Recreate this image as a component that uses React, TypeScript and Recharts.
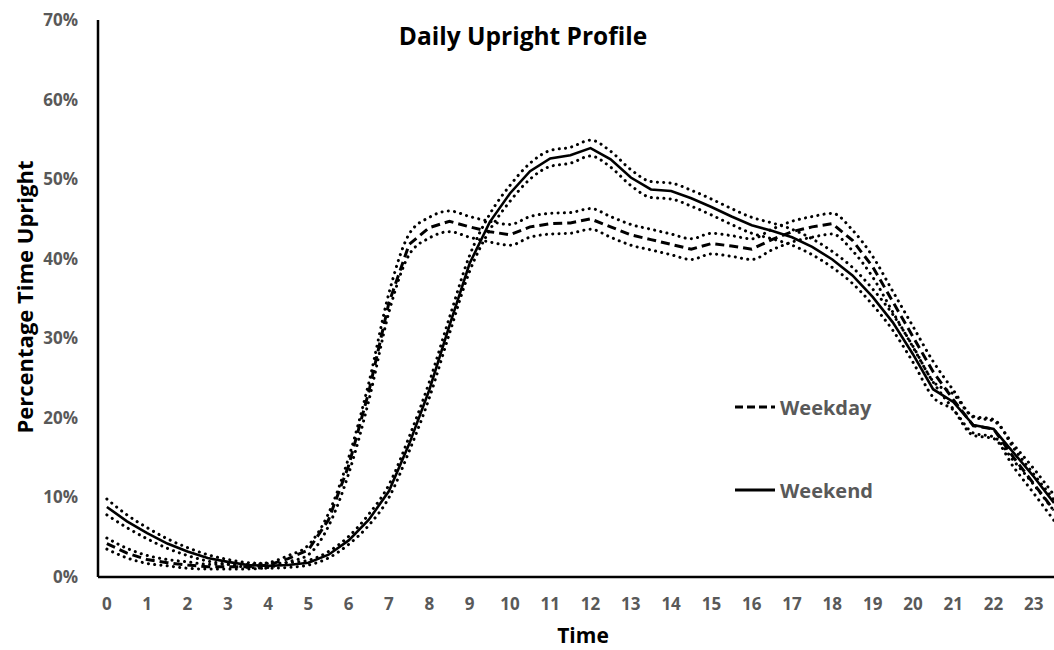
import React from 'react';
import { LineChart, Line, XAxis, YAxis, Legend } from 'recharts';

// half-hour time points
const hours: number[] = [
  0, 0.5, 1, 1.5, 2, 2.5, 3, 3.5, 4, 4.5, 5, 5.5, 6, 6.5, 7, 7.5, 8, 8.5, 9, 9.5,
  10, 10.5, 11, 11.5, 12, 12.5, 13, 13.5, 14, 14.5, 15, 15.5, 16, 16.5, 17, 17.5,
  18, 18.5, 19, 19.5, 20, 20.5, 21, 21.5, 22, 22.5, 23, 23.5,
];

const weekday: number[] = [
  4.2, 3.0, 2.2, 1.8, 1.5, 1.3, 1.3, 1.3, 1.5, 2.3, 3.4, 7.2, 14.0, 23.3, 34.5, 41.8,
  43.9, 44.7, 44.0, 43.4, 43.0, 44.0, 44.4, 44.5, 45.0, 44.0, 43.0, 42.4, 41.8, 41.2,
  41.9, 41.6, 41.2, 42.4, 43.4, 44.0, 44.4, 42.3, 39.0, 34.6, 30.2, 25.8, 22.3, 19.0,
  18.6, 15.0, 11.7, 8.4,
];
const weekdayUpper: number[] = [
  4.9, 3.6, 2.7, 2.2, 1.9, 1.6, 1.6, 1.6, 1.8, 2.7, 4.0, 8.0, 15.0, 24.4, 35.7, 43.1,
  45.2, 46.0, 45.3, 44.7, 44.3, 45.3, 45.7, 45.8, 46.3, 45.3, 44.3, 43.7, 43.1, 42.5,
  43.2, 42.9, 42.5, 43.7, 44.7, 45.3, 45.7, 43.6, 40.3, 35.9, 31.5, 27.1, 23.5, 20.2,
  19.8, 16.2, 12.9, 9.7,
];
const weekdayLower: number[] = [
  3.5, 2.4, 1.7, 1.4, 1.1, 1.0, 1.0, 1.0, 1.2, 1.9, 2.8, 6.4, 13.0, 22.2, 33.3, 40.5,
  42.6, 43.4, 42.7, 42.1, 41.7, 42.7, 43.1, 43.2, 43.7, 42.7, 41.7, 41.1, 40.5, 39.9,
  40.6, 40.3, 39.9, 41.1, 42.1, 42.7, 43.1, 41.0, 37.7, 33.3, 28.9, 24.5, 21.1, 17.8,
  17.4, 13.8, 10.5, 7.1,
];

const weekend: number[] = [
  8.8, 7.0, 5.5, 4.2, 3.2, 2.4, 1.9, 1.5, 1.4, 1.5, 1.8, 2.8, 4.6, 7.2, 10.8, 16.7,
  23.5, 31.6, 39.4, 44.6, 48.2, 51.0, 52.6, 53.0, 53.9, 52.5, 50.2, 48.7, 48.5, 47.6,
  46.5, 45.3, 44.2, 43.5, 42.7, 41.5, 39.9, 37.9, 35.2, 32.0, 28.0, 23.6, 22.0, 19.1,
  18.6, 15.6, 12.6, 9.3,
];
const weekendUpper: number[] = [
  9.8, 7.8, 6.2, 4.8, 3.7, 2.8, 2.2, 1.8, 1.7, 1.8, 2.1, 3.2, 5.1, 7.9, 11.6, 17.6,
  24.5, 32.6, 40.4, 45.6, 49.2, 52.0, 53.6, 54.0, 54.9, 53.5, 51.2, 49.7, 49.5, 48.6,
  47.5, 46.3, 45.2, 44.5, 43.7, 42.5, 40.9, 38.9, 36.2, 33.0, 29.0, 24.6, 23.0, 20.1,
  19.6, 16.6, 13.6, 10.3,
];
const weekendLower: number[] = [
  7.8, 6.2, 4.8, 3.6, 2.7, 2.0, 1.6, 1.2, 1.1, 1.2, 1.5, 2.4, 4.1, 6.5, 10.0, 15.8,
  22.5, 30.6, 38.4, 43.6, 47.2, 50.0, 51.6, 52.0, 52.9, 51.5, 49.2, 47.7, 47.5, 46.6,
  45.5, 44.3, 43.2, 42.5, 41.7, 40.5, 38.9, 36.9, 34.2, 31.0, 27.0, 22.6, 21.0, 18.1,
  17.6, 14.6, 11.6, 8.3,
];

const xTicks: number[] = [
  0, 1, 2, 3, 4, 5, 6, 7, 8, 9, 10, 11, 12, 13, 14, 15, 16, 17, 18, 19, 20, 21, 22, 23,
];
const yTicks: number[] = [0, 10, 20, 30, 40, 50, 60, 70];

const data = hours.map((t, i) => ({
  t,
  weekday: weekday[i],
  weekdayUpper: weekdayUpper[i],
  weekdayLower: weekdayLower[i],
  weekend: weekend[i],
  weekendUpper: weekendUpper[i],
  weekendLower: weekendLower[i],
}));

const FONT = '"Open Sans", sans-serif';
const GRAY = '#595959';

const dotted = {
  stroke: '#000',
  strokeWidth: 3,
  strokeDasharray: '0.1 6.2',
  strokeLinecap: 'round' as const,
};

const renderLegend = () => (
  <svg width={200} height={112} style={{ display: 'block', overflow: 'visible' }}>
    <line x1={2} x2={42} y1={14} y2={14} stroke="#000" strokeWidth={3} strokeDasharray="8 4" />
    <text x={47} y={14} dominantBaseline="central" fill={GRAY} fontSize={20} fontWeight={700} fontFamily={FONT}>
      Weekday
    </text>
    <line x1={2} x2={42} y1={97} y2={97} stroke="#000" strokeWidth={3} />
    <text x={47} y={97} dominantBaseline="central" fill={GRAY} fontSize={20} fontWeight={700} fontFamily={FONT}>
      Weekend
    </text>
  </svg>
);

export default function App() {
  return (
    <div
      style={{
        position: 'absolute',
        left: 0,
        top: 0,
        width: 1054,
        height: 650,
        background: '#fff',
        fontFamily: FONT,
        overflow: 'hidden',
      }}
    >
      <LineChart width={1054} height={650} data={data} margin={{ top: 20, right: 0, bottom: 0, left: 0 }}>
        <XAxis
          type="number"
          dataKey="t"
          domain={[-0.22, 23.5]}
          ticks={xTicks}
          interval={0}
          allowDataOverflow
          height={73}
          tickLine={false}
          tickSize={0}
          tickMargin={21}
          axisLine={{ stroke: '#000', strokeWidth: 2.5 }}
          tick={{ fill: GRAY, fontSize: 17, fontWeight: 700, fontFamily: FONT }}
        />
        <YAxis
          type="number"
          domain={[0, 70]}
          ticks={yTicks}
          interval={0}
          width={98}
          tickLine={false}
          tickSize={0}
          tickMargin={20}
          tickFormatter={(v: number) => `${v}%`}
          axisLine={{ stroke: '#000', strokeWidth: 2.5 }}
          tick={{ fill: GRAY, fontSize: 17, fontWeight: 700, fontFamily: FONT }}
        />
        <Legend
          layout="vertical"
          align="center"
          verticalAlign="middle"
          content={renderLegend}
          wrapperStyle={{ position: 'absolute', left: 733, top: 393, width: 200, height: 112 }}
        />
        <Line dataKey="weekdayUpper" type="monotone" dot={false} activeDot={false} isAnimationActive={false} legendType="none" {...dotted} />
        <Line dataKey="weekdayLower" type="monotone" dot={false} activeDot={false} isAnimationActive={false} legendType="none" {...dotted} />
        <Line dataKey="weekendUpper" type="monotone" dot={false} activeDot={false} isAnimationActive={false} legendType="none" {...dotted} />
        <Line dataKey="weekendLower" type="monotone" dot={false} activeDot={false} isAnimationActive={false} legendType="none" {...dotted} />
        <Line
          dataKey="weekday"
          name="Weekday"
          type="linear"
          dot={false}
          activeDot={false}
          isAnimationActive={false}
          stroke="#000"
          strokeWidth={3}
          strokeDasharray="9 5"
        />
        <Line
          dataKey="weekend"
          name="Weekend"
          type="linear"
          dot={false}
          activeDot={false}
          isAnimationActive={false}
          stroke="#000"
          strokeWidth={2.6}
        />
      </LineChart>
      <svg
        width={1054}
        height={650}
        style={{ position: 'absolute', left: 0, top: 0, pointerEvents: 'none' }}
      >
        <text x={523} y={45} textAnchor="middle" fontSize={24.5} fontWeight={700} fontFamily={FONT} fill="#000">
          Daily Upright Profile
        </text>
        <text
          x={33}
          y={297}
          textAnchor="middle"
          transform="rotate(-90 33 297)"
          fontSize={22}
          fontWeight={700}
          fontFamily={FONT}
          fill="#000"
        >
          Percentage Time Upright
        </text>
        <text x={583} y={643} textAnchor="middle" fontSize={21} fontWeight={700} fontFamily={FONT} fill="#000">
          Time
        </text>
      </svg>
    </div>
  );
}
